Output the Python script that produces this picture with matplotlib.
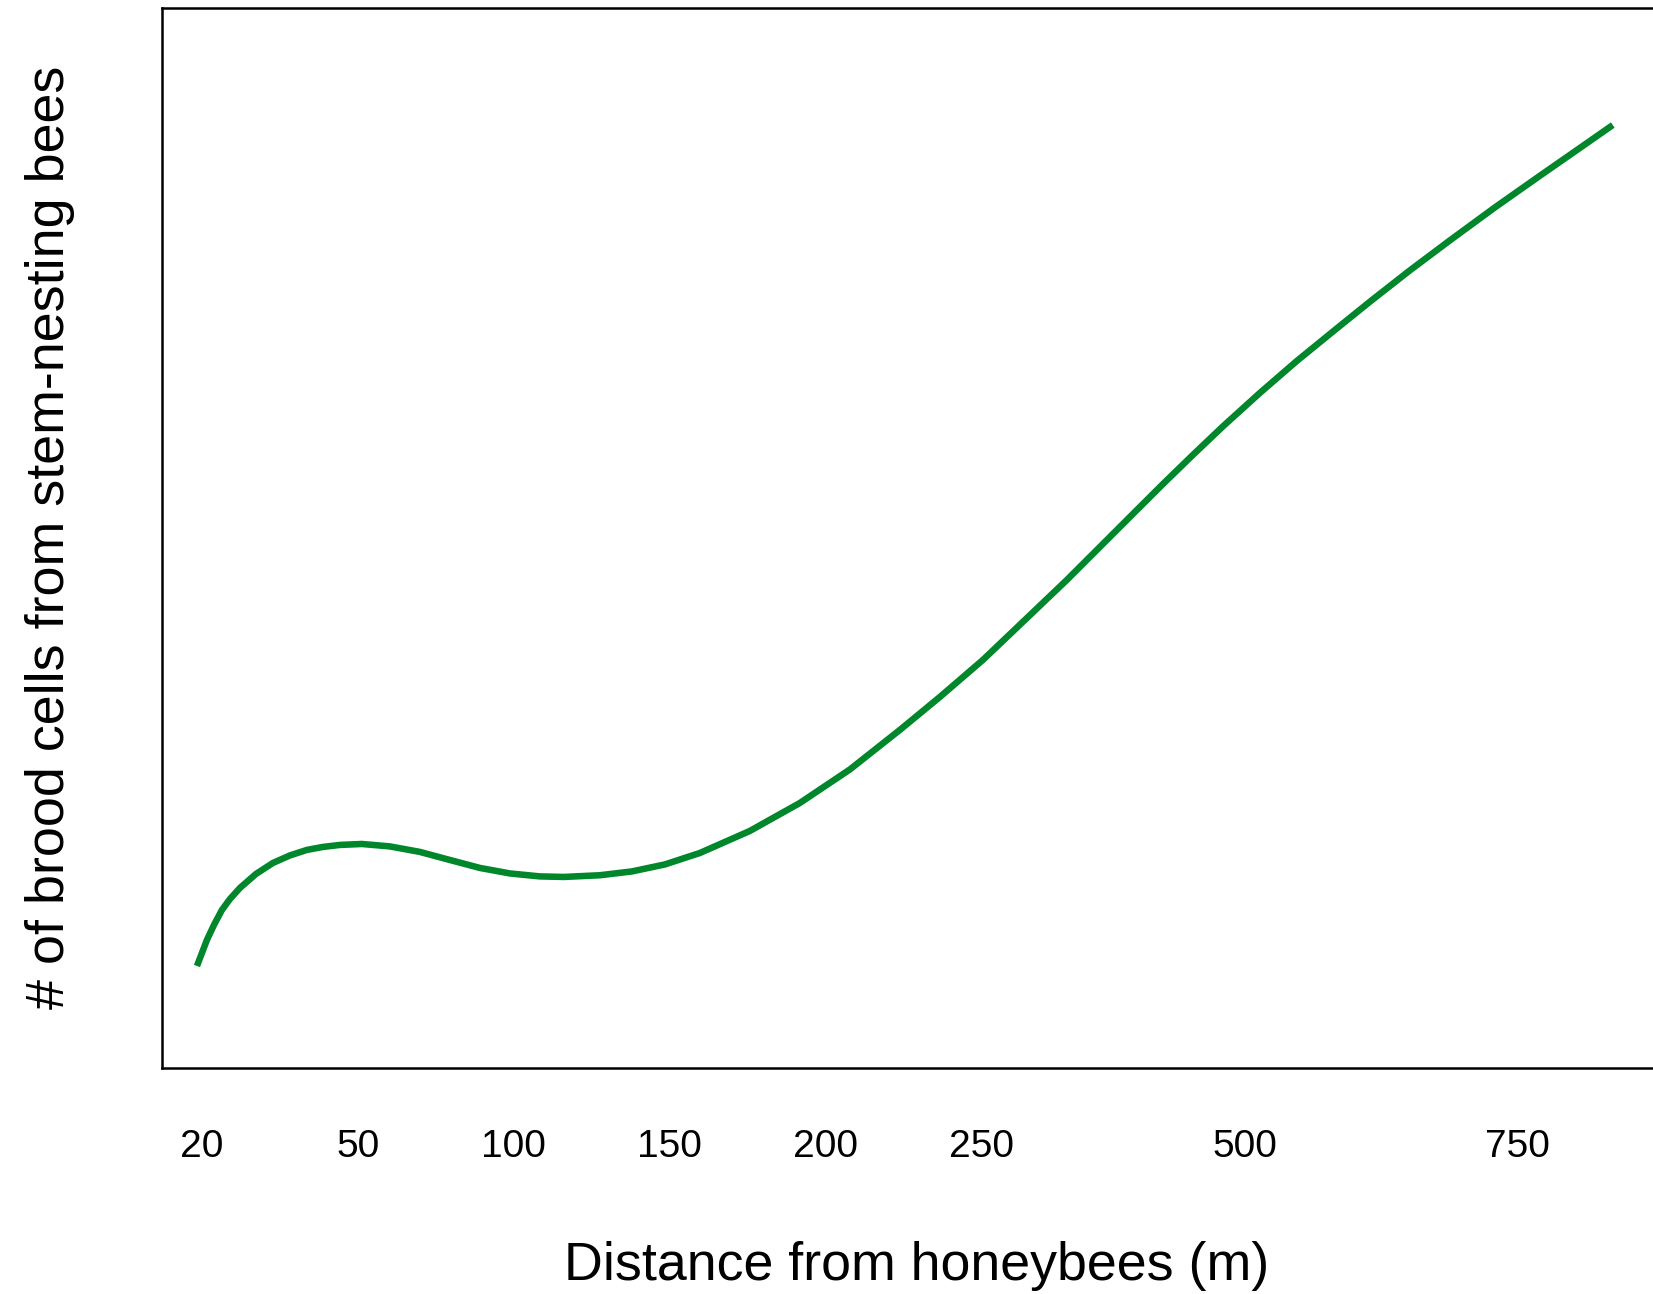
import numpy as np
import matplotlib
matplotlib.use('Agg')
import matplotlib.pyplot as plt

plt.rcParams['font.family'] = ['Liberation Sans', 'DejaVu Sans']

# distance ticks and where they sit along the axis (uneven spacing)
tick_m = [20, 50, 100, 150, 200, 250, 500, 750]
tick_pos = [0, 1, 2, 3, 4, 5, 6.69, 8.44]

# fitted brood-cell curve, distance (m) vs relative brood cells
dist_m = [19.08, 20.04, 21.0, 22.35, 23.89, 25.43, 27.35, 30.43, 33.70,
          36.97, 40.24, 43.32, 46.59, 51.38, 60.36, 69.98, 79.60, 89.22,
          98.85, 108.47, 116.17, 127.71, 137.97, 148.56, 159.78, 175.82,
          191.86, 207.89, 223.93, 236.76, 251.61, 291.46, 331.32, 362.63,
          393.95, 422.41, 450.88, 479.35, 513.96, 547.86, 582.69, 615.67,
          651.40, 688.06, 729.30, 769.61, 807.19, 837.43]
brood = [9.62, 10.85, 12.08, 13.49, 14.91, 15.94, 16.98, 18.30, 19.34,
         20.05, 20.57, 20.85, 21.04, 21.13, 20.90, 20.38, 19.62, 18.87,
         18.35, 18.07, 18.02, 18.18, 18.54, 19.20, 20.28, 22.36,
         25.00, 28.16, 31.89, 35.00, 38.49, 42.26, 46.04, 49.15,
         52.26, 55.08, 57.83, 60.52, 63.68, 66.70, 69.62, 72.36,
         75.24, 78.07, 81.18, 84.10, 86.79, 88.96]

knot_m = np.array([0] + tick_m + [1000], dtype=float)
knot_p = np.array([-2 / 3] + tick_pos + [tick_pos[-1] + 1.75])


def fwd(d):
    return np.interp(d, knot_m, knot_p)


def inv(p):
    return np.interp(p, knot_p, knot_m)


fig = plt.figure(figsize=(16.53, 12.94), dpi=100)
ax = fig.add_axes([0.098, 0.1747, 1 - 0.098, 0.8191])
ax.set_xscale('function', functions=(fwd, inv))

ax.plot(dist_m, brood, color='#00862B', lw=4.7,
        solid_capstyle='butt', solid_joinstyle='round')

ax.set_xlim(inv(-0.255), inv(9.31))
ax.set_ylim(0, 100)
ax.set_xticks(tick_m)
ax.set_xticklabels([str(t) for t in tick_m])
ax.xaxis.set_minor_locator(matplotlib.ticker.NullLocator())
ax.set_yticks([])
ax.tick_params(axis='x', length=0, pad=44, labelsize=28)

for side in ['left', 'top', 'bottom']:
    ax.spines[side].set_linewidth(1.8)
ax.spines['right'].set_visible(False)

fig.text(0.5548, 0.0216, 'Distance from honeybees (m)', fontsize=38.7,
         ha='center', va='center')
fig.text(0.030, 0.585, '# of brood cells from stem-nesting bees', fontsize=38.8,
         rotation=90, ha='center', va='center')

fig.savefig('out.png', dpi=100)
